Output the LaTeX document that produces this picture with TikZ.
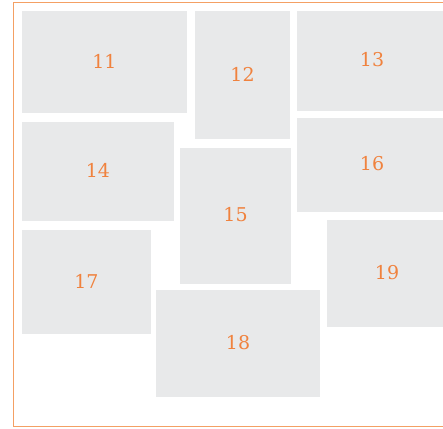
\documentclass[tikz,border=0pt]{standalone}
\usepackage{fontspec}
\setmainfont{DejaVu Serif}

\definecolor{tilegray}{RGB}{232,233,234}
\definecolor{numorange}{RGB}{240,130,62}
\definecolor{frameorange}{RGB}{244,160,100}

\tikzset{
  tile/.style={fill=tilegray, draw=none},
  tilenum/.style={text=numorange, font=\fontsize{19}{19}\selectfont, inner sep=0pt},
  frameline/.style={draw=frameorange, line width=1.2pt}
}

\begin{document}
\begin{tikzpicture}[x=1pt, y=-1pt]

  % ---- canvas, in pixels from the top left ----
  \useasboundingbox (0,0) rectangle (443,428);

  % outer frame (open to the right)
  \draw[frameline] (443,2.5) -- (13.5,2.5) -- (13.5,426.5) -- (443,426.5);

  % ---- tiles: number / left / top / right / bottom ----
  % tiles on the right run past the edge of the canvas
  \begin{scope}
    \clip (0,0) rectangle (443,428);
    \foreach \n/\xa/\ya/\xb/\yb in {
        11/22/11/187/113,
        12/195/11/290/139,
        13/297/11/447/111,
        14/22/122/174/221,
        15/180/148/291/284,
        16/297/118/447/212,
        17/22/230/151/334,
        18/156/290/320/397,
        19/327/220/447/327} {
      \fill[tile] (\xa,\ya) rectangle (\xb,\yb);
      \node[tilenum] (tile\n) at ({(\xa+\xb)/2},{(\ya+\yb)/2-1}) {\n};
    }
  \end{scope}

\end{tikzpicture}
\end{document}
